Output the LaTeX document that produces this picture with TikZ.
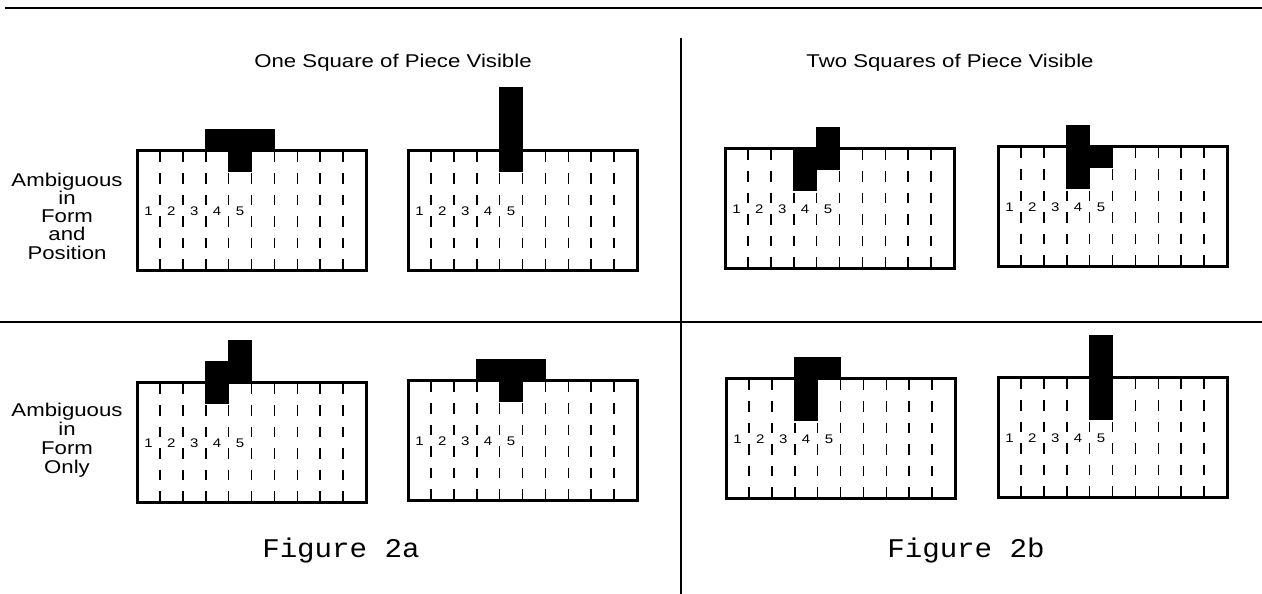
\documentclass[tikz,border=0pt]{standalone}
\usepackage{fontspec}
\setmainfont{Liberation Sans}
\newfontfamily\labelfont[FakeStretch=1.2]{Liberation Sans}
\newfontfamily\figfont[FakeStretch=1.08]{Liberation Mono}
\usetikzlibrary{positioning}

%% board geometry
\newcommand{\colw}{22.9}
\newcommand{\rowh}{21}
\newcommand{\boardh}{120}

\tikzset{
  rule/.style={line width=1.6pt},
  boardframe/.style={line width=3pt},
  gridline/.style={line width=1.6pt,dash pattern=on 10.5pt off 11pt},
  piece/.style={fill=black,draw=black,line width=0.6pt},
  numlabel/.style={font=\labelfont\fontsize{12.5}{14}\selectfont,inner sep=0pt},
  rowlabel/.style={font=\labelfont\fontsize{18.5}{18.3}\selectfont,align=center,inner sep=0pt},
  headlabel/.style={font=\labelfont\fontsize{18.5}{22}\selectfont,inner sep=0pt,anchor=base},
  figlabel/.style={font=\figfont\fontsize{27}{30}\selectfont,inner sep=0pt,anchor=base}
}

%% #1 name, #2 top left corner, #3 cells col/row of the piece (row 0 is just above the board)
\newcommand{\drawboard}[3]{%
  \begin{scope}[shift={#2}]
    \foreach \k in {1,...,9}
      \draw[gridline] (\k*\colw,1.5) -- (\k*\colw,\boardh);
    \foreach \k in {1,...,5}
      \node[numlabel] (#1-n\k) at ({(\k-0.5)*\colw},61.5) {\k};
    \draw[boardframe] (0,0) rectangle (10*\colw,\boardh);
    \foreach \pc/\pr in {#3}
      \filldraw[piece] ({(\pc-1)*\colw},{(\pr-1)*\rowh}) rectangle ({\pc*\colw},{\pr*\rowh});
  \end{scope}}

\begin{document}
\begin{tikzpicture}[x=1pt,y=-1pt]
  \useasboundingbox (0,0) rectangle (1262,594);
  %% frame lines
  \coordinate (topL) at (5,8);
  \coordinate (topR) at (1262,8);
  \coordinate (midL) at (0,322);
  \coordinate (midR) at (1262,322);
  \coordinate (sepT) at (681,38);
  \coordinate (sepB) at (681,594);
  \draw[rule] (topL) -- (topR);
  \draw[rule,line width=1.3pt] (midL) -- (midR);
  \draw[rule,line width=1.3pt] (sepT) -- (sepB);

  %% headings
  \node[headlabel] (headA) at (393,68) {One Square of Piece Visible};
  \node[headlabel] (headB) at (950,67) {Two Squares of Piece Visible};

  %% row labels
  \node[rowlabel] (rowA) at (67,216) {Ambiguous\\in\\Form\\and\\Position};
  \node[rowlabel,font=\labelfont\fontsize{18.5}{19}\selectfont] (rowB) at (67,440) {Ambiguous\\in\\Form\\Only};

  %% top row of boards
  \drawboard{b1}{(137,150)}{4/0,5/0,6/0,5/1}
  \drawboard{b2}{(408,150)}{5/-2,5/-1,5/0,5/1}
  \drawboard{b3}{(725,148)}{4/1,4/2,5/0,5/1}
  \drawboard{b4}{(998,146)}{4/0,4/1,4/2,5/1}
  %% bottom row of boards
  \drawboard{b5}{(137,382)}{4/0,4/1,5/-1,5/0}
  \drawboard{b6}{(408,380)}{4/0,5/0,6/0,5/1}
  \drawboard{b7}{(726,378)}{4/0,5/0,4/1,4/2}
  \drawboard{b8}{(998,377)}{5/-1,5/0,5/1,5/2}

  %% captions
  \node[figlabel] (figA) at (341,557) {Figure 2a};
  \node[figlabel] (figB) at (966,557) {Figure 2b};
\end{tikzpicture}
\end{document}
